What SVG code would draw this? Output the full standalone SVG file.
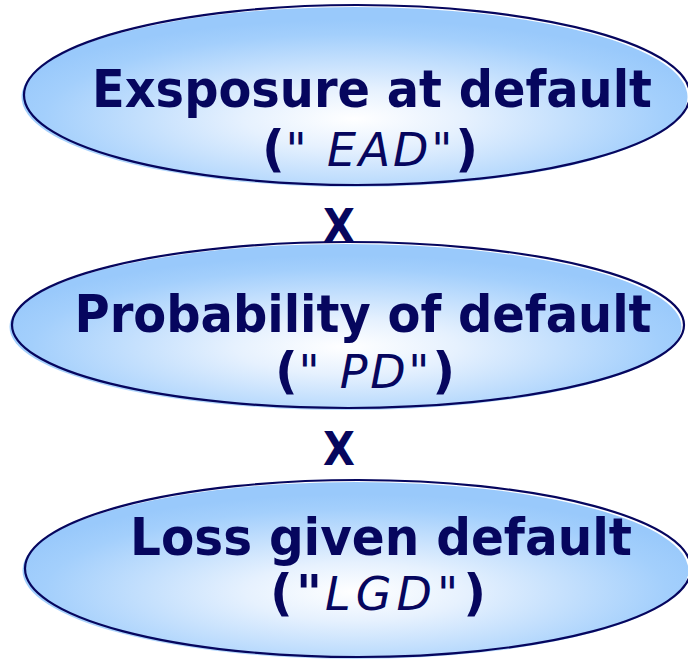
<svg xmlns="http://www.w3.org/2000/svg" width="688" height="660" viewBox="0 0 688 660">
  <defs>
    <radialGradient id="bubble" cx="50%" cy="62%" r="55%">
      <stop offset="0" stop-color="#ffffff"/>
      <stop offset="0.3" stop-color="#e6f1fe"/>
      <stop offset="0.85" stop-color="#a3cffc"/>
      <stop offset="1" stop-color="#99c9fb"/>
    </radialGradient>
    <style>
      .fill { fill: url(#bubble); stroke: none; }
      .rim { fill: none; stroke: #06065e; stroke-width: 2.2; }
      .title { font-family: "DejaVu Sans Condensed", "DejaVu Sans", sans-serif; font-weight: bold; font-size: 52px; fill: #06065e; text-anchor: middle; }
      .abbr { font-family: "DejaVu Sans", sans-serif; font-size: 46px; fill: #06065e; text-anchor: middle; }
      .par { font-weight: bold; font-style: normal; font-size: 50px; }
      .ital { font-style: italic; font-weight: normal; letter-spacing: 2px; }
      .op { font-family: "DejaVu Sans Condensed", "DejaVu Sans", sans-serif; font-weight: bold; font-size: 46px; fill: #06065e; text-anchor: middle; }
    </style>
  </defs>

  <rect width="688" height="660" fill="#ffffff"/>

  <!-- Exposure at default -->
  <g id="ead">
    <ellipse class="fill" cx="354.5" cy="97" rx="333" ry="90"/>
    <ellipse class="rim" cx="357" cy="95" rx="333" ry="90"/>
    <text class="title" x="372" y="107" textLength="560" lengthAdjust="spacingAndGlyphs">Exsposure at default</text>
    <text class="abbr" x="370" y="166" textLength="216" lengthAdjust="spacing"><tspan class="par">(</tspan><tspan class="ital">" EAD"</tspan><tspan class="par">)</tspan></text>
  </g>

  <!-- Probability of default -->
  <g id="pd">
    <ellipse class="fill" cx="345.5" cy="327" rx="336" ry="83"/>
    <ellipse class="rim" cx="348" cy="325" rx="336" ry="83"/>
    <text class="title" x="363" y="332" textLength="577" lengthAdjust="spacingAndGlyphs">Probability of default</text>
    <text class="abbr" x="365" y="388" textLength="180" lengthAdjust="spacing"><tspan class="par">(</tspan><tspan class="ital">" PD"</tspan><tspan class="par">)</tspan></text>
  </g>

  <!-- Loss given default -->
  <g id="lgd">
    <ellipse class="fill" cx="355.5" cy="570.5" rx="333" ry="88.5"/>
    <ellipse class="rim" cx="358" cy="568.5" rx="333" ry="88.5"/>
    <text class="title" x="381" y="555" textLength="502" lengthAdjust="spacingAndGlyphs">Loss given default</text>
    <text class="abbr" x="378" y="610" textLength="216" lengthAdjust="spacing"><tspan class="par">("</tspan><tspan class="ital">LGD"</tspan><tspan class="par">)</tspan></text>
  </g>

  <!-- multiplication signs between the factors -->
  <g id="connectors">
    <text class="op" x="339" y="242">X</text>
    <text class="op" x="339" y="465">X</text>
  </g>
</svg>
